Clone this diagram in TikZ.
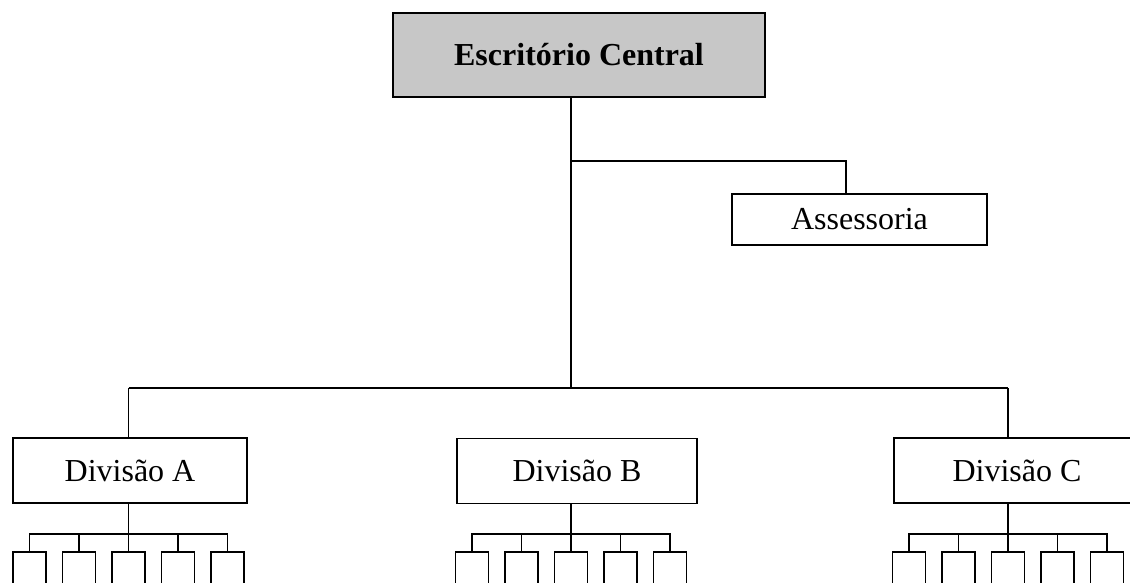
\documentclass[tikz,border=0pt]{standalone}
\usepackage{fontspec}
\setmainfont{Liberation Serif}
\usepackage{tikz}

\begin{document}
\begin{tikzpicture}[x=1pt,y=-1pt,line width=1.9pt,
	caixa/.style={draw,inner sep=0pt,font=\fontsize{32}{38}\selectfont},
	divisao/.style={caixa,minimum width=240pt,minimum height=65pt},
	sub/.style={draw,inner sep=0pt,minimum width=33pt,minimum height=60pt,anchor=north}]
		\useasboundingbox (0,0) rectangle (1130,582);
		\clip (0,0) rectangle (1130,582);
		\node[caixa, fill=black!22, minimum width=372pt, minimum height=84pt, font=\fontsize{32}{38}\selectfont\bfseries] (central) at (579,55) {Escrit\'orio Central};
		\node[caixa, minimum width=255pt, minimum height=51pt] (assess) at (859.5,219.5) {Assessoria};
		\node[divisao, minimum width=234pt] (divA) at (130,470.5) {Divis\~ao A};
		\node[divisao] (divB) at (577,471) {Divis\~ao B};
		\node[divisao, minimum width=246pt] (divC) at (1017,470.5) {Divis\~ao C};
		\coordinate (tronco) at (571,388);
		\coordinate (ramo) at (846,161);
		\coordinate (pA) at (128.5,388);
		\coordinate (pB) at (571,388);
		\coordinate (pC) at (1008,388);
		
		\node[sub] (a1) at (29.5,551) {};
		\node[sub] (a2) at (79,551) {};
		\node[sub] (a3) at (128.5,551) {};
		\node[sub] (a4) at (178,551) {};
		\node[sub] (a5) at (227.5,551) {};
		\node[sub] (b1) at (472,551) {};
		\node[sub] (b2) at (521.5,551) {};
		\node[sub] (b3) at (571,551) {};
		\node[sub] (b4) at (620.5,551) {};
		\node[sub] (b5) at (670,551) {};
		\node[sub] (c1) at (909,551) {};
		\node[sub] (c2) at (958.5,551) {};
		\node[sub] (c3) at (1008,551) {};
		\node[sub] (c4) at (1057.5,551) {};
		\node[sub] (c5) at (1107,551) {};
		
		\draw (central.south -| tronco) -- (tronco);
		\draw (tronco |- ramo) -| (assess.north -| ramo);
		\draw (pA) -- (pC);
		\draw (pA) -- (pA |- divA.north);
		\draw (pC) -- (pC |- divC.north);
		
		\draw (divA.south -| pA) -- (a3.north);
		\draw (a1.north) -- ++(0,-17) -| (a5.north);
		\draw (a2.north) -- ++(0,-17);
		\draw (a4.north) -- ++(0,-17);
		\draw (divB.south -| pB) -- (b3.north);
		\draw (b1.north) -- ++(0,-17) -| (b5.north);
		\draw (b2.north) -- ++(0,-17);
		\draw (b4.north) -- ++(0,-17);
		\draw (divC.south -| pC) -- (c3.north);
		\draw (c1.north) -- ++(0,-17) -| (c5.north);
		\draw (c2.north) -- ++(0,-17);
		\draw (c4.north) -- ++(0,-17);
	\end{tikzpicture}
\end{document}
